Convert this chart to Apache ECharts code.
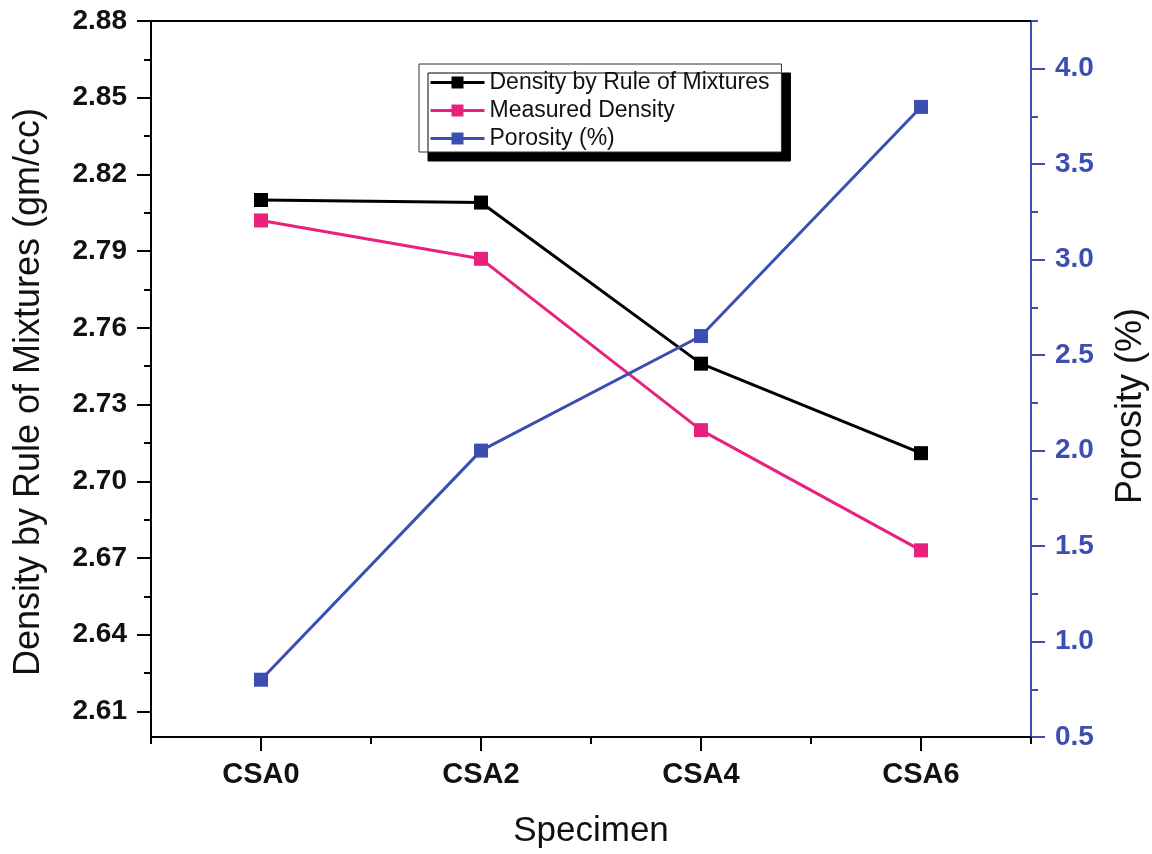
<!DOCTYPE html>
<html>
<head>
<meta charset="utf-8">
<title>Density and Porosity by Specimen</title>
<script src="https://cdn.jsdelivr.net/npm/echarts@6/dist/echarts.min.js"></script>
<style>
  html, body { margin: 0; padding: 0; background: #ffffff; }
  #chart { width: 1152px; height: 854px; }
</style>
</head>
<body>
<div id="chart"></div>
<script>
// Specimens along the x axis
const specimens = ['CSA0', 'CSA2', 'CSA4', 'CSA6'];

// Densities (gm/cc), left axis
const ruleOfMixtures = [2.810, 2.809, 2.746, 2.711];
const measuredDensity = [2.802, 2.787, 2.720, 2.673];

// Porosity (%), right axis
const porosity = [0.8, 2.0, 2.6, 3.8];

// Tick values
const densityTicks = [2.61, 2.64, 2.67, 2.70, 2.73, 2.76, 2.79, 2.82, 2.85, 2.88];
const densityMinorTicks = [2.625, 2.655, 2.685, 2.715, 2.745, 2.775, 2.805, 2.835, 2.865];
const porosityTicks = [0.5, 1.0, 1.5, 2.0, 2.5, 3.0, 3.5, 4.0];
const porosityMinorTicks = [0.75, 1.25, 1.75, 2.25, 2.75, 3.25, 3.75, 4.25];

const FONT = "'Liberation Sans', Arial, 'DejaVu Sans', sans-serif";
const BLACK = '#000000';
const PINK = '#e8217d';
const BLUE = '#3c4eb2';

const chart = echarts.init(document.getElementById('chart'), null, { renderer: 'canvas' });

const hidden = { show: false };

const option = {
  backgroundColor: '#ffffff',
  animation: false,
  grid: { left: 151, right: 121, top: 21, bottom: 117, containLabel: false, outerBoundsMode: 'none' },
  legend: {
    data: ['Density by Rule of Mixtures', 'Measured Density', 'Porosity (%)'],
    orient: 'vertical',
    left: 419,
    top: 64,
    padding: [7, 12, 2, 10],
    itemGap: 5,
    itemWidth: 54,
    itemHeight: 15,
    itemTextGap: 6,
    backgroundColor: '#ffffff',
    borderColor: '#333333',
    borderWidth: 1,
    shadowColor: '#000000',
    shadowBlur: 0,
    shadowOffsetX: 9,
    shadowOffsetY: 9,
    lineStyle: { width: 3 },
    textStyle: { fontFamily: FONT, fontSize: 23, color: '#111111' }
  },
  xAxis: [
    {
      type: 'category',
      data: specimens,
      position: 'bottom',
      boundaryGap: true,
      name: 'Specimen',
      nameLocation: 'middle',
      nameGap: 77,
      nameTextStyle: { fontFamily: FONT, fontSize: 35, color: '#111111' },
      axisLine: { show: true, onZero: false, lineStyle: { color: BLACK, width: 2 } },
      axisTick: { show: true, alignWithLabel: true, inside: false, length: 14, lineStyle: { color: BLACK, width: 2 } },
      axisLabel: { margin: 23, fontFamily: FONT, fontSize: 29, fontWeight: 'bold', color: '#111111' },
      splitLine: hidden
    },
    {
      // boundary ticks between specimens
      type: 'category',
      data: specimens,
      position: 'bottom',
      boundaryGap: true,
      axisLine: { show: false, onZero: false },
      axisTick: { show: true, alignWithLabel: false, inside: false, length: 7, lineStyle: { color: BLACK, width: 2 } },
      axisLabel: hidden,
      splitLine: hidden
    },
    {
      // top frame line
      type: 'category',
      data: specimens,
      position: 'top',
      boundaryGap: true,
      axisLine: { show: true, onZero: false, lineStyle: { color: BLACK, width: 2 } },
      axisTick: hidden,
      axisLabel: hidden,
      splitLine: hidden
    }
  ],
  yAxis: [
    {
      type: 'value',
      position: 'left',
      min: 2.60,
      max: 2.88,
      name: 'Density by Rule of Mixtures (gm/cc)',
      nameLocation: 'middle',
      nameGap: 104,
      nameTextStyle: { fontFamily: FONT, fontSize: 36, color: '#111111', padding: [0, 26, 0, 0] },
      axisLine: { show: true, onZero: false, lineStyle: { color: BLACK, width: 2 } },
      axisTick: { show: true, inside: false, length: 14, customValues: densityTicks, lineStyle: { color: BLACK, width: 2 } },
      axisLabel: {
        customValues: densityTicks,
        margin: 24,
        fontFamily: FONT, fontSize: 28, fontWeight: 'bold', color: '#111111',
        formatter: v => v.toFixed(2)
      },
      splitLine: hidden
    },
    {
      // minor ticks of the density axis
      type: 'value',
      position: 'left',
      min: 2.60,
      max: 2.88,
      axisLine: { show: false, onZero: false },
      axisTick: { show: true, inside: false, length: 7, customValues: densityMinorTicks, lineStyle: { color: BLACK, width: 2 } },
      axisLabel: hidden,
      splitLine: hidden
    },
    {
      type: 'value',
      position: 'right',
      min: 0.5,
      max: 4.25,
      name: 'Porosity (%)',
      nameLocation: 'middle',
      nameGap: 82,
      nameRotate: 90,
      nameTextStyle: { fontFamily: FONT, fontSize: 36, color: '#111111', padding: [0, 54, 0, 0] },
      axisLine: { show: true, onZero: false, lineStyle: { color: BLUE, width: 2 } },
      axisTick: { show: true, inside: false, length: 14, customValues: porosityTicks, lineStyle: { color: BLUE, width: 2 } },
      axisLabel: {
        customValues: porosityTicks,
        margin: 24,
        fontFamily: FONT, fontSize: 28, fontWeight: 'bold', color: BLUE,
        formatter: v => v.toFixed(1)
      },
      splitLine: hidden
    },
    {
      // minor ticks of the porosity axis
      type: 'value',
      position: 'right',
      min: 0.5,
      max: 4.25,
      axisLine: { show: false, onZero: false },
      axisTick: { show: true, inside: false, length: 7, customValues: porosityMinorTicks, lineStyle: { color: BLUE, width: 2 } },
      axisLabel: hidden,
      splitLine: hidden
    }
  ],
  series: [
    {
      name: 'Density by Rule of Mixtures',
      type: 'line',
      xAxisIndex: 0,
      yAxisIndex: 0,
      data: ruleOfMixtures,
      symbol: 'rect',
      symbolSize: 14,
      lineStyle: { color: BLACK, width: 3 },
      itemStyle: { color: BLACK },
      z: 3
    },
    {
      name: 'Measured Density',
      type: 'line',
      xAxisIndex: 0,
      yAxisIndex: 0,
      data: measuredDensity,
      symbol: 'rect',
      symbolSize: 14,
      lineStyle: { color: PINK, width: 3 },
      itemStyle: { color: PINK },
      z: 3
    },
    {
      name: 'Porosity (%)',
      type: 'line',
      xAxisIndex: 0,
      yAxisIndex: 2,
      data: porosity,
      symbol: 'rect',
      symbolSize: 14,
      lineStyle: { color: BLUE, width: 3 },
      itemStyle: { color: BLUE },
      z: 3
    }
  ]
};

chart.setOption(option);
</script>
</body>
</html>
